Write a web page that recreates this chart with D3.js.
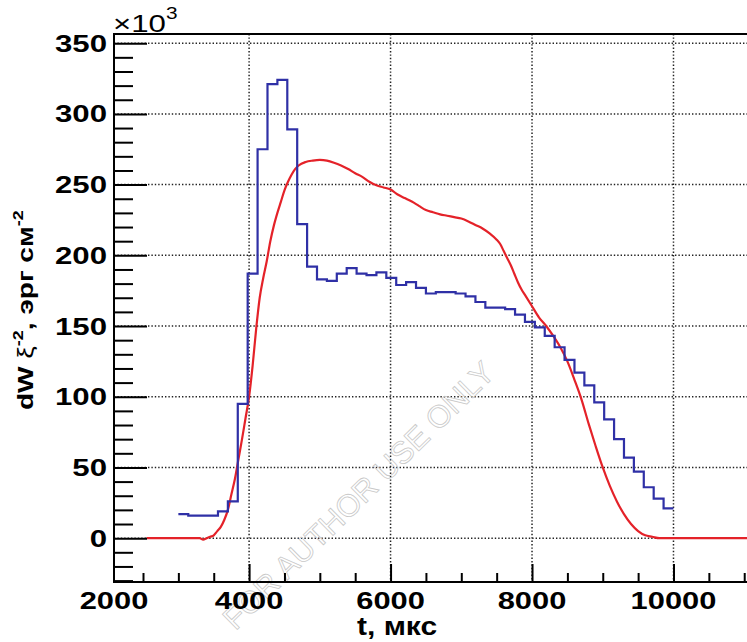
<!DOCTYPE html>
<meta charset="utf-8">
<style>
body {
    margin: 0px;
    background: white;
    overflow: hidden;
}
text {
  font-family: "Liberation Sans", Arial, sans-serif;
}
</style>
<body>
<script src="https://d3js.org/d3.v7.min.js"></script>
<script>
// blue histogram: 50 bins of 140 mks starting at 3000
var binStart = 3000,
    binWidth = 140;
var blueValues = [17, 16, 16, 16, 19, 26, 95, 187, 275, 321,
                  324, 289, 222, 192, 183, 182, 187, 191, 187, 186,
                  188, 184, 179, 181, 177, 173, 174, 174, 173, 171,
                  167, 163, 163, 162, 158, 153, 149, 143, 135, 126,
                  117, 108, 96, 84, 70, 57, 47, 36, 28, 21];

// red curve (t, value)
var redT = [2550, 3000, 3300, 3350, 3400, 3450, 3500, 3550, 3600, 3650,
            3700, 3750, 3800, 3850, 3900, 3950, 4000, 4050, 4100, 4150,
            4200, 4250, 4300, 4350, 4400, 4450, 4500, 4550, 4600, 4650,
            4700, 4800, 4900, 5000, 5100, 5200, 5300, 5400, 5500,
            5600, 5700, 5800, 5900, 6000, 6100, 6200, 6300, 6400, 6500,
            6600, 6700, 6800, 6900, 7000, 7100, 7200, 7300, 7400, 7500,
            7550, 7600, 7650, 7700, 7750, 7800, 7850, 7900, 8000, 8100,
            8200, 8300, 8400, 8500, 8600, 8700, 8800, 8900, 9000, 9100,
            9200, 9300, 9400, 9500, 9600, 9700, 9800, 10000, 11100];
var redV = [0, 0, 0, -1, 0, 1, 2, 5, 8, 13,
            20, 31, 42, 56, 70, 85, 100, 122, 148, 170,
            184, 196, 210, 221, 230, 238, 246, 252, 257, 261,
            263.5, 266, 267, 267.5, 267, 265.5, 263.5, 261, 258,
            255.5, 252, 249.5, 248, 246.5, 243, 240.5, 238, 235, 232,
            230.5, 229, 228, 227, 226, 224, 221.5, 219, 215.5, 211,
            208, 203, 198, 193, 187, 181, 176, 172, 164, 156,
            150, 143, 135, 125, 112, 98, 81, 65, 50, 37,
            26, 17, 10, 5, 2, 1, 0, 0, 0];

var xTicks = [4000, 6000, 8000, 10000],
    xMinorTicks = [2500, 3000, 3500, 4500, 5000, 5500, 6500, 7000, 7500, 8500, 9000, 9500, 10500, 11000],
    yTicks = [0, 50, 100, 150, 200, 250, 300, 350],
    yMinorTicks = [-30, -20, -10, 10, 20, 30, 40, 60, 70, 80, 90, 110, 120, 130, 140,
                   160, 170, 180, 190, 210, 220, 230, 240, 260, 270, 280, 290, 310, 320, 330, 340];

var width = 747,
    height = 642;
var fLeft = 114, fRight = 752, fTop = 34, fBottom = 582;

var x = d3.scaleLinear().domain([2090, 11110]).range([fLeft, fRight]);
var y = d3.scaleLinear().domain([-31, 356.5]).range([fBottom, fTop]);

var svg = d3.select("body").append("svg")
    .attr("width", width)
    .attr("height", height);

svg.append("clipPath").attr("id", "frame")
  .append("rect")
    .attr("x", fLeft).attr("y", fTop)
    .attr("width", fRight - fLeft).attr("height", fBottom - fTop);

// grid
var grid = svg.append("g")
    .attr("stroke", "#222")
    .attr("stroke-width", 1.5)
    .attr("stroke-dasharray", "1.4,2");
grid.selectAll(".gx").data(xTicks).enter().append("line")
    .attr("x1", d => x(d)).attr("x2", d => x(d))
    .attr("y1", fTop).attr("y2", fBottom);
grid.selectAll(".gy").data(yTicks).enter().append("line")
    .attr("x1", fLeft).attr("x2", fRight)
    .attr("y1", d => y(d)).attr("y2", d => y(d));

// watermark
svg.append("text")
    .attr("transform", "translate(366,503) rotate(-44.5)")
    .attr("text-anchor", "middle")
    .attr("font-size", 31)
    .attr("fill", "none")
    .attr("stroke", "#c8c8c8")
    .attr("stroke-width", 0.8)
    .attr("textLength", 366)
    .text("FOR AUTHOR USE ONLY");

var plot = svg.append("g").attr("clip-path", "url(#frame)");

// red curve
var redLine = d3.line()
    .x((d, i) => x(redT[i]))
    .y(d => y(d))
    .curve(d3.curveMonotoneX);
plot.append("path")
    .datum(redV)
    .attr("d", redLine)
    .attr("fill", "none")
    .attr("stroke", "#e42229")
    .attr("stroke-width", 2.2);

// blue histogram
var bluePts = blueValues.map((v, i) => [binStart + i * binWidth, v]);
bluePts.push([binStart + blueValues.length * binWidth, blueValues[blueValues.length - 1]]);
var blueLine = d3.line()
    .x(d => x(d[0]))
    .y(d => y(d[1]))
    .curve(d3.curveStepAfter);
plot.append("path")
    .datum(bluePts)
    .attr("d", blueLine)
    .attr("fill", "none")
    .attr("stroke", "#2f30a6")
    .attr("stroke-width", 2.2);

// ticks
function ticks(axis, tr) {
  var g = svg.append("g").attr("transform", tr).call(axis);
  g.select(".domain").remove();
  g.selectAll("text").remove();
  g.selectAll("line").attr("stroke", "#000").attr("stroke-width", 2);
}
ticks(d3.axisRight(y).tickValues(yTicks).tickSize(33), "translate(" + fLeft + ",0)");
ticks(d3.axisRight(y).tickValues(yMinorTicks).tickSize(19), "translate(" + fLeft + ",0)");
ticks(d3.axisTop(x).tickValues(xTicks).tickSize(18), "translate(0," + fBottom + ")");
ticks(d3.axisTop(x).tickValues(xMinorTicks).tickSize(9), "translate(0," + fBottom + ")");

// frame
svg.append("path")
    .attr("d", "M" + fRight + "," + fTop + "H" + fLeft + "V" + fBottom + "H" + fRight)
    .attr("fill", "none")
    .attr("stroke", "#000")
    .attr("stroke-width", 2);

// tick labels
svg.selectAll(".ylab").data(yTicks).enter().append("text")
    .attr("transform", d => "translate(107," + (y(d) + 8.5) + ") scale(1.3,1)")
    .attr("text-anchor", "end")
    .attr("font-size", 24)
    .attr("font-weight", "bold")
    .text(d => d);
svg.selectAll(".xlab").data(xTicks).enter().append("text")
    .attr("transform", d => "translate(" + x(d) + ",609) scale(1.26,1)")
    .attr("text-anchor", "middle")
    .attr("font-size", 24.5)
    .attr("font-weight", "bold")
    .text(d => d);
svg.append("text")
    .attr("transform", "translate(" + fLeft + ",609) scale(1.26,1)")
    .attr("text-anchor", "middle")
    .attr("font-size", 24.5)
    .attr("font-weight", "bold")
    .text("2000");

// exponent
var ex = svg.append("text")
    .attr("transform", "translate(113,32) scale(1.3,1)")
    .attr("font-size", 24);
ex.append("tspan").text("\u00d710");
ex.append("tspan").attr("font-size", 16).attr("dy", -13).text("3");

// axis titles
svg.append("text")
    .attr("transform", "translate(357,635) scale(1.2,1)")
    .attr("font-size", 25)
    .attr("font-weight", "bold")
    .text("t, мкс");

var yt = svg.append("text")
    .attr("transform", "translate(33,410) rotate(-90) scale(1,0.8)")
    .attr("font-size", 28)
    .attr("font-weight", "bold");
yt.append("tspan").text("dW ");
yt.append("tspan").attr("font-weight", "normal").text("\u03be");
yt.append("tspan").attr("font-size", 18).attr("dy", -13).text("-2");
yt.append("tspan").attr("dy", 13).text(", эрг см");
yt.append("tspan").attr("font-size", 18).attr("dy", -13).text("-2");
</script>
</body>
</html>
